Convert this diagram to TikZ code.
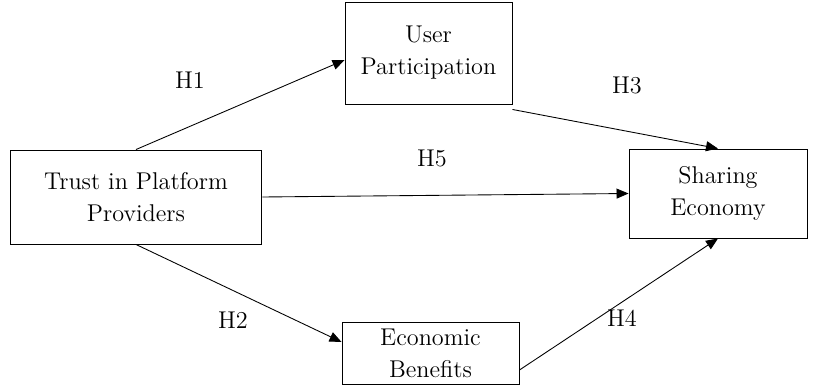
\documentclass[tikz,border=0pt]{standalone}
\usetikzlibrary{arrows.meta}

\begin{document}
\begin{tikzpicture}[x=0.02cm,y=-0.02cm,
    every node/.style={font=\fontsize{13.8}{18.2}\selectfont},
    box/.style={draw,line width=0.55pt,align=center,inner sep=0pt},
    link/.style={line width=0.5pt,-{Triangle[length=0.24cm,width=0.2cm]}}]
      \useasboundingbox (0,0) rectangle (819,385);

      \node[box,minimum width=5.04cm,minimum height=1.88cm] (trust) at (136,197) {Trust in Platform\\Providers};
      \node[box,minimum width=3.34cm,minimum height=2.04cm] (user) at (428.5,53) {User\\Participation};
      \node[box,minimum width=3.56cm,minimum height=1.78cm] (share) at (718,193.5) {Sharing\\Economy};
      \node[box,minimum width=3.54cm,minimum height=1.24cm] (econ) at (430.5,353) {Economic\\Benefits};

      \draw[link] (trust.north) -- ([yshift=-0.14cm]user.west);
      \draw[link] ([yshift=-0.1cm]user.south east) -- (share.north);
      \draw[link] (trust.east) -- (share.west);
      \draw[link] (trust.south) -- ([yshift=0.22cm]econ.west);
      \draw[link] ([yshift=-0.34cm]econ.east) -- (share.south);

      \node (h1) at (190,80) {H1};
      \node (h3) at (627,85) {H3};
      \node (h5) at (432,158) {H5};
      \node (h2) at (233,320) {H2};
      \node (h4) at (622,318) {H4};
    \end{tikzpicture}
\end{document}
